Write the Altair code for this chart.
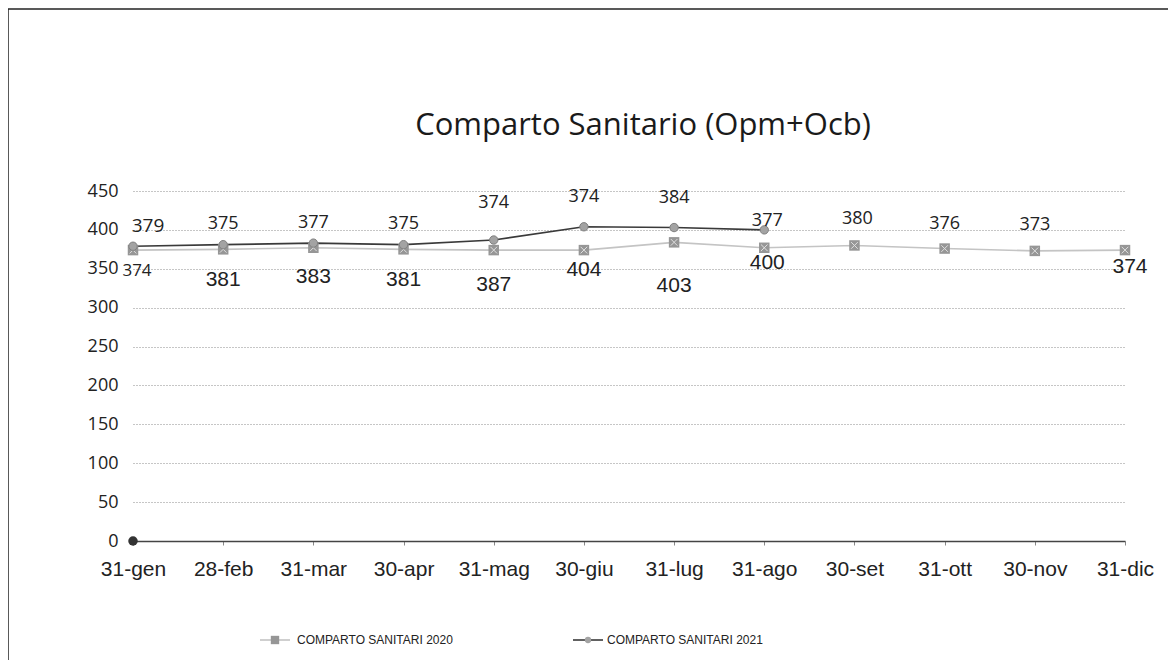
import altair as alt
import pandas as pd

months = ["31-gen", "28-feb", "31-mar", "30-apr", "31-mag", "30-giu",
          "31-lug", "31-ago", "30-set", "31-ott", "30-nov", "31-dic"]
v2020 = [374, 375, 377, 375, 374, 374, 384, 377, 380, 376, 373, 374]
v2021 = [379, 381, 383, 381, 387, 404, 403, 400]
zero_point_month = ["31-gen"]
zero_point_value = [0]
y_ticks = [0, 50, 100, 150, 200, 250, 300, 350, 400, 450]
title_text = "Comparto Sanitario (Opm+Ocb)"
legend_2020 = "COMPARTO SANITARI 2020"
legend_2021 = "COMPARTO SANITARI 2021"

# label placement (style): (dx, dy, fontSize, font) per month
F1 = "Open Sans"
F2 = "Liberation Sans"
off2020 = {"31-gen": (4, 21, 17, F1), "28-feb": (0, -25, 18, F1), "31-mar": (0, -25, 18, F1),
           "30-apr": (0, -25, 18, F1), "31-mag": (0, -47, 18, F1), "30-giu": (0, -53, 18, F1),
           "31-lug": (0, -44, 18, F1), "31-ago": (3, -27, 18, F1), "30-set": (3, -26, 18, F1),
           "31-ott": (0, -25, 18, F1), "30-nov": (0, -26, 18, F1), "31-dic": (5, 17, 21, F2)}
off2021 = {"31-gen": (15, -20, 19, F1), "28-feb": (0, 35, 21, F2), "31-mar": (0, 34, 21, F2),
           "30-apr": (0, 35, 21, F2), "31-mag": (0, 45, 21, F2), "30-giu": (0, 43, 21, F2),
           "31-lug": (0, 58, 21, F2), "31-ago": (3, 33, 21, F2)}

W, H = 992, 350

d20 = pd.DataFrame({"mese": months, "valore": v2020})
d21 = pd.DataFrame({"mese": months[:len(v2021)], "valore": v2021})
dz = pd.DataFrame({"mese": zero_point_month, "valore": zero_point_value})
one = pd.DataFrame({"a": [0]})

xenc = alt.X("mese:N", sort=months,
             scale=alt.Scale(type="point", padding=0, domain=months),
             axis=alt.Axis(title=None, labelAngle=0, labelFontSize=21,
                           labelFont="Liberation Sans", labelColor="#222",
                           domainColor="#444", domainWidth=1.5,
                           tickColor="#888", tickSize=4, labelPadding=13,
                           grid=False))
yenc = alt.Y("valore:Q", scale=alt.Scale(domain=[0, 450], nice=False, zero=True),
             axis=alt.Axis(title=None, values=y_ticks, labelFontSize=18,
                           labelFont="Open Sans", labelColor="#222",
                           labelPadding=15, domain=False, ticks=False,
                           labelOverlap=False,
                           grid=True, gridColor="#8c8c8c", gridDash=[1, 2],
                           gridWidth=1))

base20 = alt.Chart(d20)
base21 = alt.Chart(d21)

line20 = base20.mark_line(color="#c4c4c4", strokeWidth=1.6).encode(x=xenc, y=yenc)
sq20 = base20.mark_point(shape="square", filled=True, color="#969696", size=110,
                         opacity=1).encode(x=xenc, y=yenc)
x20 = base20.mark_point(shape="M-0.7,-0.7L0.7,0.7M-0.7,0.7L0.7,-0.7", filled=False,
                        color="#e0e0e0", size=90, strokeWidth=1,
                        opacity=1).encode(x=xenc, y=yenc)
line21 = base21.mark_line(color="#3a3a3a", strokeWidth=1.6).encode(x=xenc, y=yenc)
pt21 = base21.mark_point(shape="circle", filled=True, color="#a3a3a3", size=70,
                         stroke="#808080", strokeWidth=1, opacity=1).encode(
    x=xenc, y=yenc)
zero = alt.Chart(dz).mark_point(shape="circle", filled=True, color="#333333", size=90,
                                opacity=1).encode(x=xenc, y=yenc)

layers = [line20, line21, sq20, x20, pt21, zero]

# data labels
for m, (dx, dy, fs, fn) in off2020.items():
    layers.append(base20.mark_text(fontSize=fs, font=fn, color="#222",
                                   baseline="middle", dx=dx, dy=dy).encode(
        x=xenc, y=yenc, text="valore:Q").transform_filter(
        alt.datum.mese == m))
for m, (dx, dy, fs, fn) in off2021.items():
    layers.append(base21.mark_text(fontSize=fs, font=fn, color="#222",
                                   baseline="middle", dx=dx, dy=dy).encode(
        x=xenc, y=yenc, text="valore:Q").transform_filter(
        alt.datum.mese == m))

# title
layers.append(alt.Chart(one).mark_text(text=title_text, fontSize=31, font="Open Sans",
                                       color="#1a1a1a", align="center",
                                       baseline="alphabetic").encode(
    x=alt.value(W / 2 + 14), y=alt.value(-56)))

# legend
LY = 449
layers.append(alt.Chart(one).mark_rule(color="#c4c4c4", strokeWidth=1.6).encode(
    x=alt.value(127), x2=alt.value(157), y=alt.value(LY)))
layers.append(alt.Chart(one).mark_point(shape="square", filled=True, color="#969696",
                                        size=70, opacity=1).encode(
    x=alt.value(142), y=alt.value(LY)))
layers.append(alt.Chart(one).mark_text(text=legend_2020, fontSize=12,
                                       font="Liberation Sans",
                                       color="#222", align="left",
                                       baseline="middle").encode(
    x=alt.value(164), y=alt.value(LY)))
layers.append(alt.Chart(one).mark_rule(color="#3a3a3a", strokeWidth=1.6).encode(
    x=alt.value(440), x2=alt.value(470), y=alt.value(LY)))
layers.append(alt.Chart(one).mark_point(shape="circle", filled=True, color="#a3a3a3",
                                        size=40, opacity=1).encode(
    x=alt.value(455), y=alt.value(LY)))
layers.append(alt.Chart(one).mark_text(text=legend_2021, fontSize=12,
                                       font="Liberation Sans",
                                       color="#222", align="left",
                                       baseline="middle").encode(
    x=alt.value(474), y=alt.value(LY)))

# outer frame (top and left edges)
layers.append(alt.Chart(one).mark_rule(color="#222", strokeWidth=1.5).encode(
    x=alt.value(-125), x2=alt.value(W + 43), y=alt.value(-182)))
layers.append(alt.Chart(one).mark_rule(color="#222", strokeWidth=1.5).encode(
    x=alt.value(-125), y=alt.value(-182), y2=alt.value(H + 119)))

chart = alt.layer(*layers).properties(
    width=W, height=H,
    autosize=alt.AutoSizeParams(type="none"),
    padding={"left": 125, "top": 183, "right": 43, "bottom": 119},
).configure_view(stroke=None)

chart.save("out.html", embed_options={"renderer": "svg", "actions": False})
